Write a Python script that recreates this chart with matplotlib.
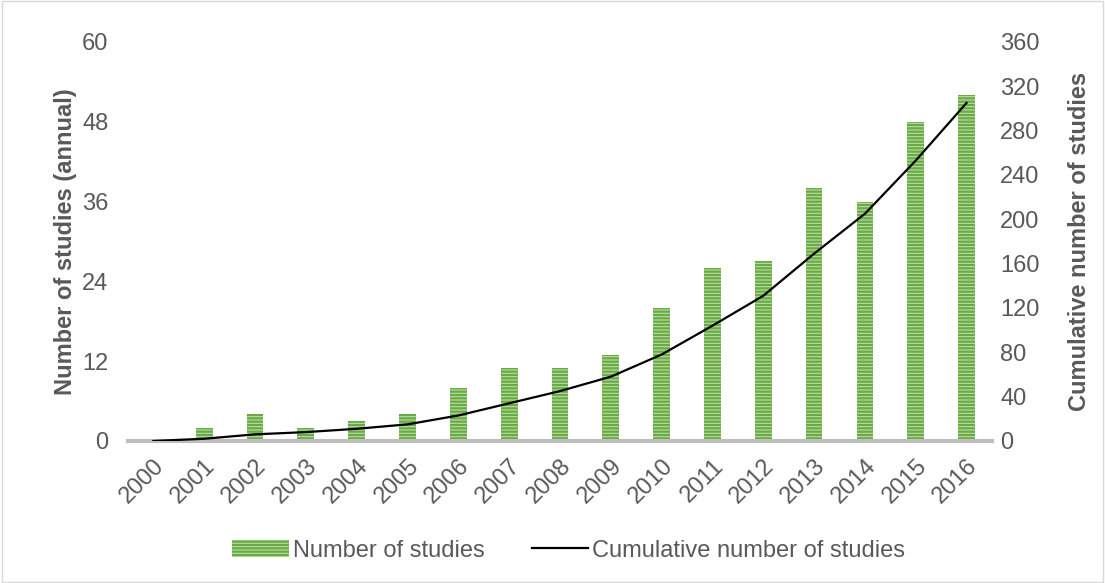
import numpy as np
import matplotlib.pyplot as plt

plt.rcParams['font.family'] = ['Liberation Sans', 'DejaVu Sans']
plt.rcParams['hatch.linewidth'] = 1.6
plt.rcParams['hatch.color'] = '#6aaa45'

years = ['2000', '2001', '2002', '2003', '2004', '2005', '2006', '2007', '2008',
         '2009', '2010', '2011', '2012', '2013', '2014', '2015', '2016']
annual = [0, 2, 4, 2, 3, 4, 8, 11, 11, 13, 20, 26, 27, 38, 36, 48, 52]
cumulative = np.cumsum(annual)

grey = '#595959'
fs = 17

fig = plt.figure(figsize=(11.05, 5.83), dpi=100)
ax = fig.add_axes([0.1158, 0.2436, 0.7819, 0.6844])
x = np.arange(len(years))

bars = ax.bar(x, annual, width=0.33, color='#b9dda4', hatch='-----',
              edgecolor='#6aaa45', linewidth=0, label='Number of studies')
ax.set_xlim(-0.5, len(years) - 0.5)
ax.set_ylim(0, 60)
ax.set_yticks(np.arange(0, 61, 12))
ax.set_xticks(x)
ax.set_xticklabels(years, rotation=45, ha='right', rotation_mode='anchor')
ax.set_ylabel('Number of studies (annual)', fontsize=fs, fontweight='bold',
              color=grey, labelpad=4)

ax2 = ax.twinx()
line, = ax2.plot(x, cumulative, color='black', lw=1.6, label='Cumulative number of studies')
ax2.set_ylim(0, 360)
ax2.set_yticks(np.arange(0, 361, 40))
ax2.set_ylabel('Cumulative number of studies', fontsize=fs, fontweight='bold',
               color=grey, labelpad=20)

for a in (ax, ax2):
    for s in a.spines.values():
        s.set_visible(False)
    a.tick_params(length=0, labelsize=fs, colors=grey, pad=6)
ax.spines['bottom'].set_visible(True)
ax.spines['bottom'].set_color('#bfbfbf')
ax.spines['bottom'].set_linewidth(3)
ax.tick_params(axis='x', pad=10)
ax.tick_params(axis='y', pad=14)

fig.legend(handles=[bars, line], loc='lower center', bbox_to_anchor=(0.5145, 0.0),
           ncol=2, frameon=False, fontsize=fs, labelcolor=grey,
           handlelength=2.4, handletextpad=0.15, columnspacing=2.0)

fig.patches.append(plt.Rectangle((0.002, 0.002), 0.996, 0.996, transform=fig.transFigure,
                                 fill=False, edgecolor='#d9d9d9', lw=1))

fig.savefig('out.png', dpi=100)
